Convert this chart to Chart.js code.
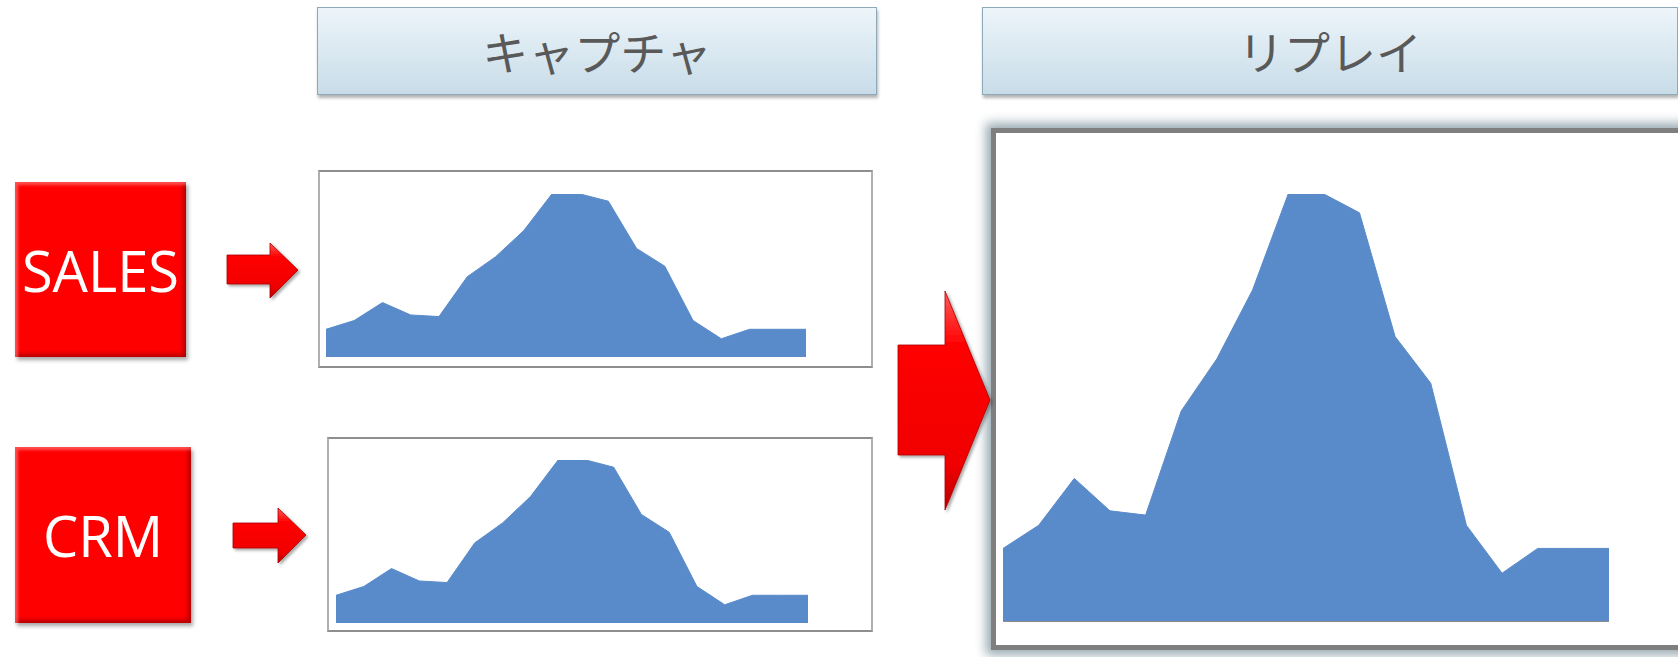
<!DOCTYPE html>
<html lang="ja">
<head>
    <meta charset="UTF-8">
    <title>キャプチャ / リプレイ</title>
    <script src="https://cdn.jsdelivr.net/npm/chart.js@4"></script>
    <style>
        body {
            margin: 0;
            width: 1678px;
            height: 657px;
            background: #fff;
            position: relative;
            overflow: hidden;
            font-family: "Open Sans", "Noto Sans", sans-serif;
        }
        .header {
            position: absolute;
            top: 7px;
            height: 88px;
            box-sizing: border-box;
            border: 1px solid #8eaaba;
            background: linear-gradient(#edf5fa, #c8dce8);
            box-shadow: 1px 3px 3px rgba(0, 0, 0, 0.3);
            font-family: "Noto Sans CJK JP", sans-serif;
            font-size: 46px;
            color: #595959;
            text-align: center;
            line-height: 84px;
        }
        .redbox {
            position: absolute;
            background: #ff0000;
            color: #fff;
            display: flex;
            align-items: center;
            justify-content: center;
            font-size: 56px;
            box-shadow: inset 3px 3px 3px rgba(255, 130, 130, 0.6),
                        inset -3px -3px 4px rgba(120, 0, 0, 0.55),
                        2px 3px 4px rgba(0, 0, 0, 0.35);
        }
        .frame {
            position: absolute;
            box-sizing: border-box;
            background: #fff;
            border: 2px solid #b0b0b0;
            border-top-color: #8e8e8e;
            border-bottom-color: #8e8e8e;
        }
        .bigframe {
            position: absolute;
            left: 991px;
            top: 128px;
            width: 720px;
            height: 522px;
            box-sizing: border-box;
            background: #fff;
            border: 5px solid #7f7f7f;
            box-shadow: 0 0 10px 5px rgba(135, 155, 165, 0.85);
        }
        .plot {
            position: absolute;
        }
        svg.arrows {
            position: absolute;
            left: 0;
            top: 0;
        }
    </style>
</head>
<body>
    <div class="header" style="left:317px; width:560px;">キャプチャ</div>
    <div class="header" style="left:982px; width:696px;">リプレイ</div>

    <div class="redbox" style="left:15px; top:182px; width:171px; height:175px;">SALES</div>
    <div class="redbox" style="left:15px; top:447px; width:176px; height:176px;">CRM</div>

    <div class="frame" style="left:318px; top:170px; width:555px; height:198px;"></div>
    <div class="frame" style="left:327px; top:437px; width:546px; height:195px;"></div>
    <div class="bigframe"></div>

    <svg class="arrows" width="1678" height="657">
        <defs>
            <linearGradient id="redGrad" x1="0" y1="0" x2="0" y2="1">
                <stop offset="0" stop-color="#ff5a5a"/>
                <stop offset="0.25" stop-color="#ff0000"/>
                <stop offset="0.8" stop-color="#f00000"/>
                <stop offset="1" stop-color="#b80000"/>
            </linearGradient>
            <filter id="shadow" x="-20%" y="-20%" width="140%" height="140%">
                <feDropShadow dx="2" dy="2" stdDeviation="1.5" flood-color="#000" flood-opacity="0.35"/>
            </filter>
        </defs>
        <polygon points="227,255 270,255 270,243 298,270 270,298 270,284 227,284"
                 fill="url(#redGrad)" stroke="#a80000" stroke-width="0.8" filter="url(#shadow)"/>
        <polygon points="233,523 278,523 278,508 306,535 278,563 278,548 233,548"
                 fill="url(#redGrad)" stroke="#a80000" stroke-width="0.8" filter="url(#shadow)"/>
        <polygon points="898,345 945,345 945,291 990,400 945,510 945,455 898,455"
                 fill="url(#redGrad)" stroke="#a80000" stroke-width="0.8" filter="url(#shadow)"/>
    </svg>

    <div class="plot" style="left:326px; top:194px; width:480px; height:163px;"><canvas id="salesChart"></canvas></div>
    <div class="plot" style="left:336px; top:460px; width:472px; height:163px;"><canvas id="crmChart"></canvas></div>
    <div class="plot" style="left:1003px; top:194px; width:606px; height:429px;"><canvas id="replayChart"></canvas></div>

    <script>
        // 18 sampling steps along the captured session
        const categories = ['1', '2', '3', '4', '5', '6', '7', '8', '9', '10', '11', '12', '13', '14', '15', '16', '17', '18'];

        // captured load (relative, peak = 100)
        const salesCapture = [17, 22.4, 33.4, 25.8, 24.8, 49.2, 61.4, 77.5, 100, 100, 95.6, 66.6, 55.7, 22.4, 11.2, 17, 17, 17];
        const crmCapture = [17, 22.4, 33.4, 25.8, 24.8, 49.2, 61.4, 77.5, 100, 100, 95.6, 66.6, 55.7, 22.4, 11.2, 17, 17, 17];
        // replayed load
        const replayValues = [17, 22.4, 33.4, 25.8, 24.8, 49.2, 61.4, 77.5, 100, 100, 95.6, 66.6, 55.7, 22.4, 11.2, 17, 17, 17];

        const areaColor = '#598bca';

        function makeArea(id, values, baseline) {
            const ctx = document.getElementById(id).getContext('2d');
            return new Chart(ctx, {
                type: 'line',
                data: {
                    labels: categories,
                    datasets: [{
                        data: values,
                        fill: 'origin',
                        backgroundColor: areaColor,
                        borderColor: areaColor,
                        borderWidth: 1,
                        pointRadius: 0,
                        tension: 0
                    }]
                },
                options: {
                    responsive: true,
                    maintainAspectRatio: false,
                    animation: false,
                    layout: { padding: { bottom: baseline ? 2 : 0 } },
                    plugins: {
                        legend: { display: false },
                        tooltip: { enabled: false }
                    },
                    scales: {
                        x: {
                            display: baseline,
                            ticks: { display: false },
                            grid: { display: false, drawTicks: false },
                            border: { display: true, color: '#8c8c8c', width: 2 }
                        },
                        y: { display: false, min: 0, max: 100 }
                    }
                }
            });
        }

        makeArea('salesChart', salesCapture, false);
        makeArea('crmChart', crmCapture, false);
        makeArea('replayChart', replayValues, true);
    </script>
</body>
</html>
